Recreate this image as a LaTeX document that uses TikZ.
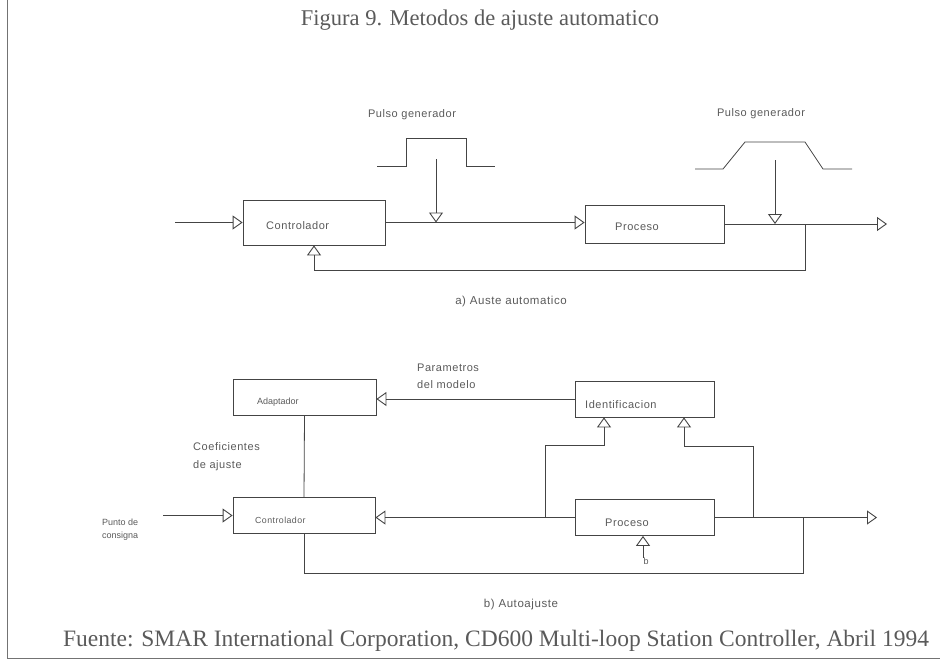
\documentclass[tikz,border=0pt]{standalone}
\usepackage{fontspec}
\setmainfont{Liberation Serif}
\newfontfamily\labfont[LetterSpace=5]{Liberation Sans}
\newfontfamily\labfontn{Liberation Sans}
\usetikzlibrary{arrows.meta}
\definecolor{ink}{HTML}{444444}
\definecolor{txt}{HTML}{5A5A5A}
\begin{document}
\begin{tikzpicture}[x=1pt,y=-1pt,
  ln/.style={draw=ink, line width=0.8pt},
  arr/.style={ln, -{Triangle[open, length=10pt, width=14pt, line width=0.9pt]}},
  blk/.style={draw=ink, line width=0.8pt, inner sep=0pt},
  lblA/.style={text=txt, font=\labfont\fontsize{11}{13}\selectfont, inner sep=0pt, anchor=west},
  lblB/.style={text=txt, font=\labfontn\fontsize{9}{12}\selectfont, inner sep=0pt, anchor=west},
  capt/.style={text=txt, font=\fontsize{22.5}{24}\selectfont, inner sep=0pt}
]
\useasboundingbox (0,0) rectangle (952,664);
% frame
\draw[draw=black!55, line width=0.8pt] (7,0) -- (7,658) -- (940,658);

% title
\node[capt] (title) at (480,20) {Figura 9. Metodos de ajuste automatico};

% ---------- a) ----------
\node[blk, minimum width=142pt, minimum height=45pt] (c1) at (314,222.5) {};
\node[lblA] (c1t) at (266,226) {Controlador};
\node[blk, minimum width=139pt, minimum height=38pt] (p1) at (654.5,224) {};
\node[lblA] (p1t) at (615,227) {Proceso};

\coordinate (in1) at (175,222.5);
\draw[arr] (in1) -- (c1.west);
\draw[arr] (c1.east) -- (c1.east -| p1.west);

% pulse 1
\draw[ln] (377,166) -- (406,166) -- (406,138) -- (466,138) -- (466,166) -- (495,166);
\node[lblA, anchor=center] (g1t) at (412,115) {Pulso generador};
\coordinate (g1) at (436,159);
\draw[arr] (g1) -- (g1 |- c1.east);

% output
\coordinate (out1) at (887,224);
\draw[arr] (p1.east) -- (out1);

% pulse 2
\draw[ln] (695,169) -- (723,169) -- (745,142) -- (805,142) -- (823,169) -- (852,169);
\node[lblA, anchor=center] (g2t) at (761,114) {Pulso generador};
\coordinate (g2) at (775,160);
\draw[arr] (g2) -- (g2 |- p1.east);

% feedback
\coordinate (fb1) at (805,224);
\coordinate (fbc1) at (314,270);
\draw[arr] (fb1) |- (fbc1) -- (c1.south);

\node[lblA, anchor=center, font=\labfont\fontsize{11.5}{13}\selectfont] (capa) at (511,302) {a) Auste automatico};

% ---------- b) ----------
\node[blk, minimum width=143pt, minimum height=36pt] (ad) at (304.5,397) {};
\node[lblB] (adt) at (257,402) {Adaptador};
\node[blk, minimum width=139pt, minimum height=36pt] (id) at (644.5,399) {};
\node[lblA] (idt) at (585,405) {Identificacion};
\node[blk, minimum width=142pt, minimum height=36pt] (c2) at (304,515.5) {};
\node[lblB, font=\labfont\fontsize{8.8}{12}\selectfont] (c2t) at (255,520) {Controlador};
\node[blk, minimum width=139pt, minimum height=36pt] (p2) at (644.5,517.5) {};
\node[lblA] (p2t) at (605,523) {Proceso};

\draw[arr] (id.west) -- (id.west -| ad.east);
\node[lblA, align=left, font=\labfont\fontsize{11}{17}\selectfont] (part) at (417,376.5) {Parametros\\del modelo};

\draw[ln] (ad.south) -- (c2.north);
\node[lblA, align=left, font=\labfont\fontsize{11}{18}\selectfont] (coef) at (193,457) {Coeficientes\\de ajuste};

\coordinate (in2) at (163,515.5);
\draw[arr] (in2) -- (c2.west);
\node[lblB, align=left, font=\labfontn\fontsize{9}{13}\selectfont] (pc) at (102,529.5) {Punto de\\consigna};

\draw[arr] (p2.west) -- (p2.west -| c2.east);

\coordinate (ia) at ([xshift=-40.5pt]id.south);
\coordinate (ib) at ([xshift=39.5pt]id.south);
\coordinate (bl) at (545,517.5);
\coordinate (br) at (753,517.5);
\draw[arr] (bl) -- ++(0,-72) -| (ia);
\draw[arr] (br) -- ++(0,-71.5) -| (ib);

\coordinate (out2) at (877,517.5);
\draw[arr] (p2.east) -- (out2);

\coordinate (fb2) at (803,517.5);
\coordinate (fbc2) at (304,573);
\draw[ln] (fb2) |- (fbc2) -- (c2.south);

\coordinate (dist) at (643,558);
\draw[arr] (dist) -- (dist |- p2.south);
\node[lblB, anchor=center] (bt) at (646,561) {b};

\node[lblA, anchor=center, font=\labfont\fontsize{11.5}{13}\selectfont] (capb) at (521,605) {b) Autoajuste};

% footer
\node[capt, font=\fontsize{23.5}{25}\selectfont] (foot) at (496,641) {Fuente: SMAR International Corporation, CD600 Multi-loop Station Controller, Abril 1994};
\end{tikzpicture}
\end{document}
